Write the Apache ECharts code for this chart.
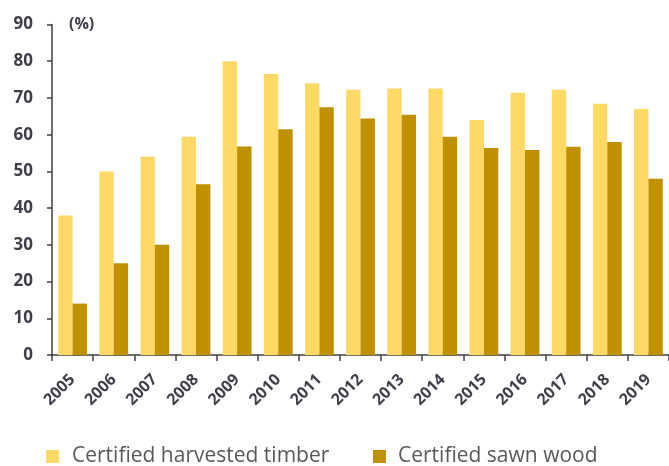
<!DOCTYPE html>
<html>
<head>
<meta charset="utf-8">
<style>
  html, body { margin: 0; padding: 0; background: #ffffff; }
  #chart { width: 669px; height: 466px; }
</style>
<script src="https://cdn.jsdelivr.net/npm/echarts@6/dist/echarts.min.js"></script>
</head>
<body>
<div id="chart"></div>
<script>
// Share of certified wood, by year (%)
const years = ['2005', '2006', '2007', '2008', '2009', '2010', '2011', '2012',
               '2013', '2014', '2015', '2016', '2017', '2018', '2019'];
const harvestedTimber = [38, 50, 54, 59.4, 80, 76.5, 74, 72.2, 72.6, 72.6, 64, 71.4, 72.2, 68.4, 67];
const sawnWood = [14, 25, 30, 46.5, 56.8, 61.5, 67.5, 64.4, 65.4, 59.4, 56.4, 55.8, 56.7, 58, 48];
const yTicks = { min: 0, max: 90, interval: 10 };

const seriesNames = ['Certified harvested timber', 'Certified sawn wood'];
const colors = ['#FFD966', '#BF9000'];

const axisColor = '#404040';
const labelColor = '#3f3f4a';
const fontFamily = '"Open Sans", "Liberation Sans", sans-serif';

const chart = echarts.init(document.getElementById('chart'), null, { renderer: 'canvas' });

chart.setOption({
  animation: false,
  backgroundColor: '#ffffff',
  grid: { left: 52, right: 0, top: 24.5, bottom: 111, containLabel: false },
  legend: [
    {
      data: [seriesNames[0]],
      left: 41, top: 441,
      itemWidth: 13, itemHeight: 13,
      icon: 'rect',
      textStyle: { color: '#595959', fontSize: 21, fontFamily: fontFamily, padding: [0, 0, 0, 8] }
    },
    {
      data: [seriesNames[1]],
      left: 368, top: 441,
      itemWidth: 13, itemHeight: 13,
      icon: 'rect',
      textStyle: { color: '#595959', fontSize: 21, fontFamily: fontFamily, padding: [0, 0, 0, 7] }
    }
  ],
  xAxis: {
    type: 'category',
    data: years,
    axisLine: { show: true, lineStyle: { color: axisColor, width: 1.5 } },
    axisTick: { show: true, alignWithLabel: false, length: 6, lineStyle: { color: axisColor, width: 1.5 } },
    axisLabel: {
      rotate: 45,
      margin: 22,
      color: labelColor,
      fontSize: 16,
      fontWeight: 'bold',
      fontFamily: fontFamily
    },
    splitLine: { show: false }
  },
  yAxis: {
    type: 'value',
    min: yTicks.min,
    max: yTicks.max,
    interval: yTicks.interval,
    name: '(%)',
    nameLocation: 'end',
    nameGap: 0,
    nameTextStyle: {
      color: labelColor,
      fontSize: 16,
      fontWeight: 'bold',
      fontFamily: fontFamily,
      align: 'left',
      verticalAlign: 'middle',
      padding: [0, 0, 0, 17]
    },
    axisLine: { show: true, lineStyle: { color: axisColor, width: 1.5 } },
    axisTick: { show: true, length: 5, lineStyle: { color: axisColor, width: 1.5 } },
    axisLabel: {
      margin: 19,
      color: labelColor,
      fontSize: 17,
      fontWeight: 'bold',
      fontFamily: fontFamily
    },
    splitLine: { show: false }
  },
  series: [
    {
      name: seriesNames[0],
      type: 'bar',
      data: harvestedTimber,
      itemStyle: { color: colors[0] },
      barGap: '0%',
      barCategoryGap: '30%'
    },
    {
      name: seriesNames[1],
      type: 'bar',
      data: sawnWood,
      itemStyle: { color: colors[1] },
      barGap: '0%',
      barCategoryGap: '30%'
    }
  ]
});
</script>
</body>
</html>
